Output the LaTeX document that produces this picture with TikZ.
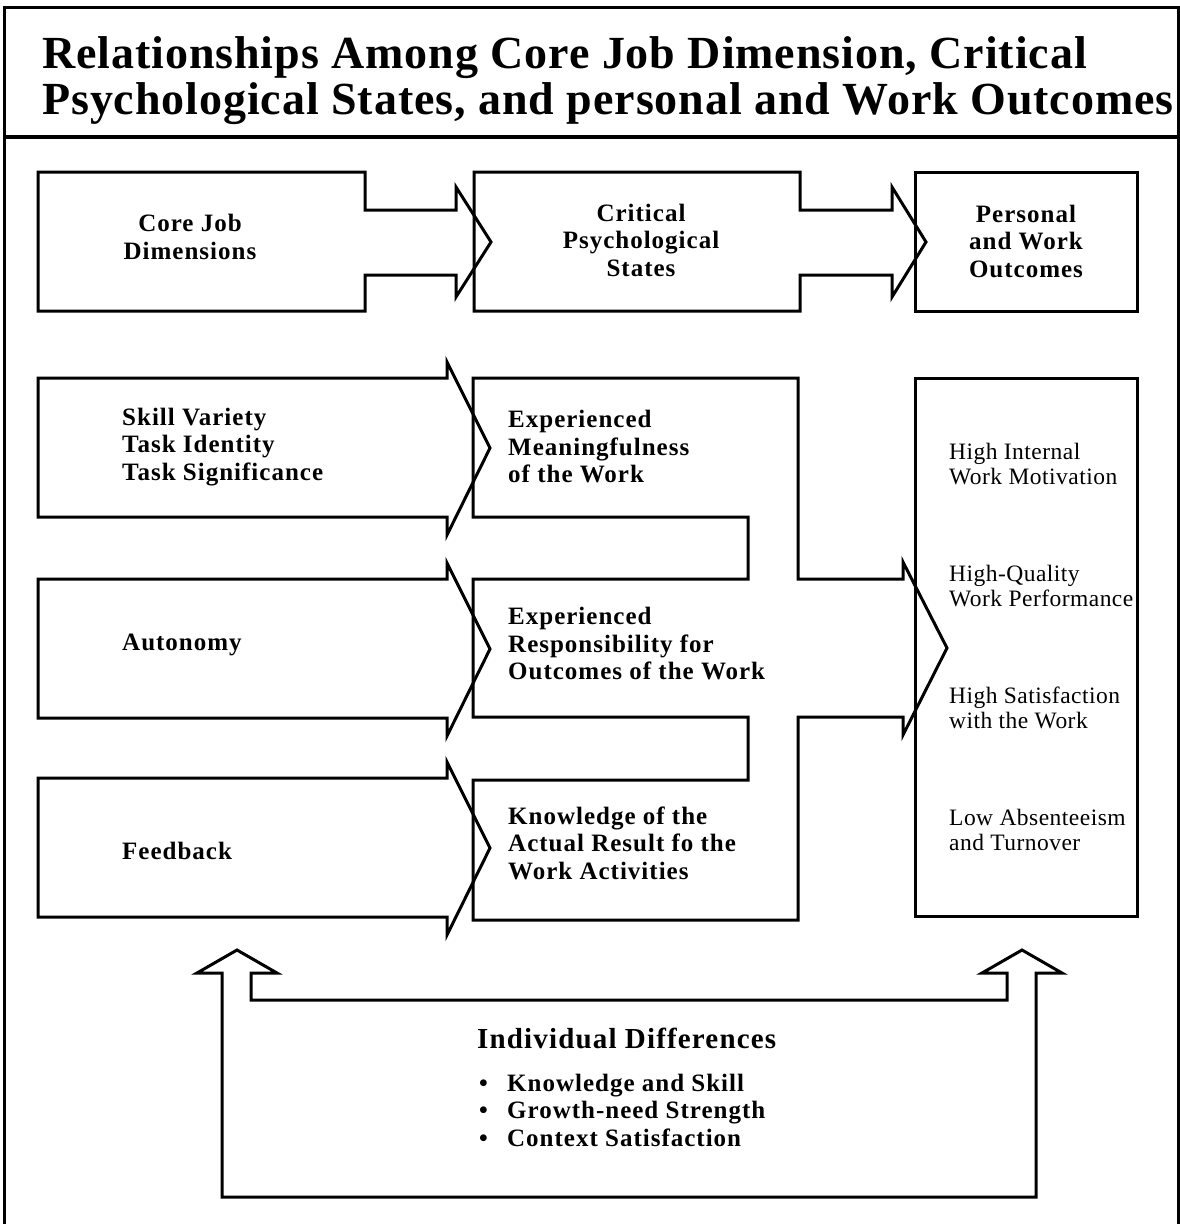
\documentclass[tikz,border=0pt]{standalone}
\usepackage{fontspec}
\setmainfont{Liberation Serif}
\newfontfamily\titlefont[LetterSpace=2]{Liberation Serif}
\newfontfamily\spacedfont[LetterSpace=4]{Liberation Serif}
\newfontfamily\plainfont[LetterSpace=2]{Liberation Serif}
\tikzset{
	blockline/.style={line width=3pt,line join=miter},
	lbl/.style={font=\spacedfont\bfseries\fontsize{25}{27.5}\selectfont,inner sep=0pt,align=left},
	hdr/.style={lbl,align=center},
	outtxt/.style={font=\plainfont\fontsize{23.5}{25}\selectfont,inner sep=0pt,align=left,anchor=west},
	ttl/.style={font=\titlefont\bfseries\fontsize{46}{47}\selectfont,inner sep=0pt,anchor=base west}
}
\begin{document}
\begin{tikzpicture}[x=1pt,y=-1pt]
	\useasboundingbox (0,0) rectangle (1180,1224);
	% frame and title
	\draw[blockline] (4,1224)--(4,7)--(1178,7)--(1178,1224);
	\draw[line width=3.5pt] (4,137)--(1178,137);
	\node[ttl] (title1) at (42,68) {Relationships Among Core Job Dimension, Critical};
	\node[ttl] (title2) at (42,114) {Psychological States, and personal and Work Outcomes};
	% top row
	\draw[blockline] (38,172)--(365,172)--(365,210)--(456,210)--(456,187)--(491,242)--(456,297)--(456,275)--(365,275)--(365,311)--(38,311)--cycle;
	\draw[blockline] (474,172)--(800,172)--(800,210)--(892,210)--(892,187)--(926,242)--(892,297)--(892,275)--(800,275)--(800,311)--(474,311)--cycle;
	\draw[blockline] (915,172) rectangle (1137,311);
	\node[hdr] (corejob) at (190,237) {Core Job\\Dimensions};
	\node[hdr] (states) at (641,240) {Critical\\Psychological\\States};
	\node[hdr] (outcomes) at (1026,241) {Personal\\and Work\\Outcomes};
	% left arrows
	\foreach \y in {378,579,778}
		\draw[blockline] (38,\y)--(447,\y)--(447,\y-16)--(490,\y+70)--(447,\y+157)--(447,\y+139)--(38,\y+139)--cycle;
	% middle column with the big arrow
	\draw[blockline] (473,378)--(798,378)--(798,579)--(903,579)--(903,562)--(947,648)--(903,735)--(903,717)--(798,717)--(798,920)--(473,920)--(473,780)--(748,780)--(748,717)--(473,717)--(473,579)--(748,579)--(748,517)--(473,517)--cycle;
	% outcomes box
	\draw[blockline] (915,378) rectangle (1137,916);
	\node[lbl,anchor=west] (skills) at (122,447) {Skill Variety\\Task Identity\\Task Significance};
	\node[lbl,anchor=west] (meaning) at (508,447) {Experienced\\Meaningfulness\\of the Work};
	\node[lbl,anchor=west] (autonomy) at (122,645) {Autonomy};
	\node[lbl,anchor=west] (respons) at (508,644) {Experienced\\Responsibility for\\Outcomes of the Work};
	\node[lbl,anchor=west] (feedback) at (122,851) {Feedback};
	\node[lbl,anchor=west] (knowledge) at (508,843) {Knowledge of the\\Actual Result fo the\\Work Activities};
	\node[outtxt] (motivation) at (949,464) {High Internal\\Work Motivation};
	\node[outtxt] (quality) at (949,586) {High-Quality\\Work Performance};
	\node[outtxt] (satisf) at (949,708) {High Satisfaction\\with the Work};
	\node[outtxt] (absent) at (949,830) {Low Absenteeism\\and Turnover};
	% feedback loop
	\draw[blockline] (222,1197)--(222,973)--(197,973)--(237,950)--(277,973)--(251,973)--(251,1000)--(1007,1000)--(1007,973)--(982,973)--(1022,950)--(1062,973)--(1036,973)--(1036,1197)--cycle;
	\node[lbl,font=\spacedfont\bfseries\fontsize{29}{30}\selectfont,anchor=west] (indiv) at (477,1038) {Individual Differences};
	\node[lbl,anchor=west] (traits) at (479,1110) {\makebox[28pt][l]{\textbullet}Knowledge and Skill\\\makebox[28pt][l]{\textbullet}Growth-need Strength\\\makebox[28pt][l]{\textbullet}Context Satisfaction};
\end{tikzpicture}
\end{document}
